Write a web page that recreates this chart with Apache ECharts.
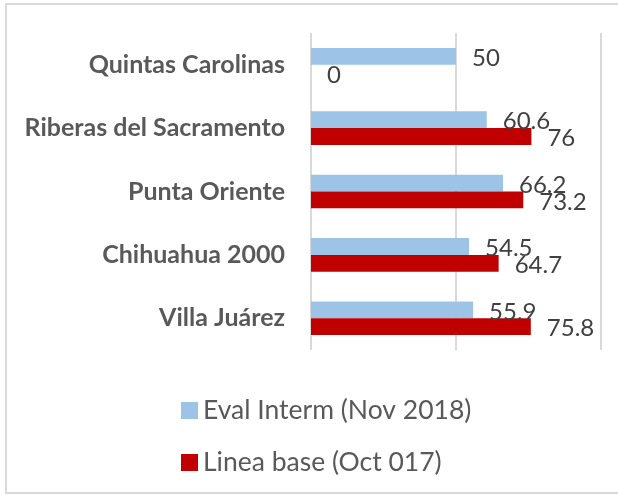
<!DOCTYPE html>
<html>
<head>
<meta charset="utf-8">
<script src="https://cdn.jsdelivr.net/npm/echarts@6/dist/echarts.min.js"></script>
<style>html,body{margin:0;padding:0;background:#fff;}#c{width:618px;height:495px;}</style>
</head>
<body>
<div id="c"></div>
<script>
const categories = ['Quintas Carolinas', 'Riberas del Sacramento', 'Punta Oriente', 'Chihuahua 2000', 'Villa Juárez'];
const seriesNames = ['Eval Interm (Nov 2018)', 'Linea base (Oct 017)'];
const evalInterm = [50, 60.6, 66.2, 54.5, 55.9];
const lineaBase = [0, 76, 73.2, 64.7, 75.8];

const chart = echarts.init(document.getElementById('c'), null, {renderer: 'canvas'});
const labelStyle = {
  show: true, position: 'right', distance: 16, offset: [0, 2],
  fontFamily: 'Lato', fontSize: 24, color: '#404040'
};
chart.setOption({
  animation: false,
  backgroundColor: '#ffffff',
  graphic: [{
    type: 'rect', shape: {x: 6, y: 4, width: 620, height: 489},
    style: {fill: 'none', stroke: '#d9d9d9', lineWidth: 2}, silent: true, z: -1
  }],
  grid: {left: 311, right: 17, top: 33, bottom: 145, containLabel: false},
  xAxis: {
    type: 'value', min: 0, max: 100, interval: 50,
    axisLine: {show: false}, axisTick: {show: false}, axisLabel: {show: false},
    splitLine: {show: true, lineStyle: {color: '#d9d9d9', width: 2}}
  },
  yAxis: {
    type: 'category', data: categories, inverse: true,
    axisLine: {show: false}, axisTick: {show: false},
    axisLabel: {fontFamily: 'Lato', fontWeight: 'bold', fontSize: 25, color: '#595959', margin: 26}
  },
  legend: {
    orient: 'vertical', left: 176, top: 392,
    itemWidth: 17, itemHeight: 17, itemGap: 25,
    icon: 'rect',
    textStyle: {fontFamily: 'Lato', fontSize: 26.5, color: '#595959', lineHeight: 26},
    data: seriesNames
  },
  series: [
    {name: seriesNames[0], type: 'bar', data: evalInterm, barGap: '0%', barCategoryGap: '47%',
     itemStyle: {color: '#9DC3E6'}, label: labelStyle},
    {name: seriesNames[1], type: 'bar', data: lineaBase, barGap: '0%', barCategoryGap: '47%',
     itemStyle: {color: '#C00000'}, label: labelStyle}
  ]
});
</script>
</body>
</html>
